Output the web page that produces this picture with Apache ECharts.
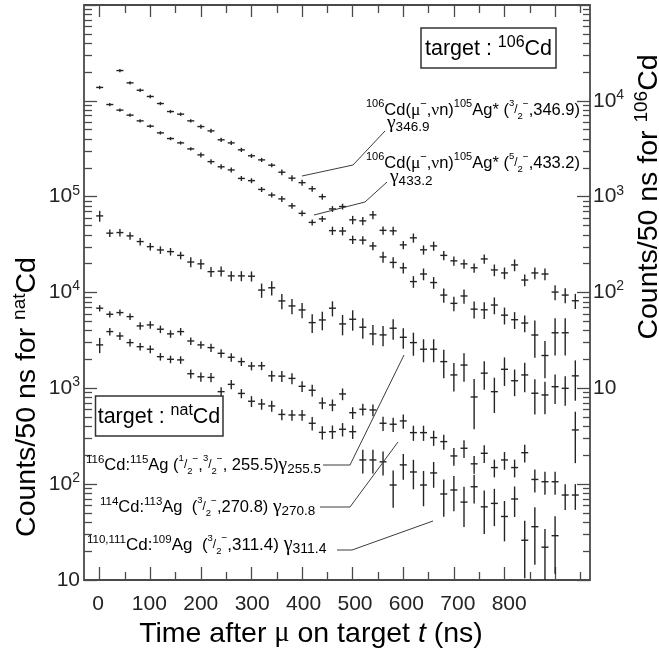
<!DOCTYPE html>
<html>
<head>
<meta charset="utf-8">
<style>
  html, body { margin: 0; padding: 0; background: #ffffff; }
  #chart { width: 659px; height: 651px; }
</style>
<script src="https://cdn.jsdelivr.net/npm/echarts@6/dist/echarts.min.js"></script>
</head>
<body>
<div id="chart"></div>
<script>
// ---- time bins (ns) ----
const TIME = [0, 20, 40, 60, 80, 100, 120, 140, 160, 180, 200, 220, 240, 260, 280, 300,
  320, 340, 360, 380, 400, 420, 440, 460, 480, 500, 520, 540, 560, 580, 600, 620,
  640, 660, 680, 700, 720, 740, 760, 780, 800, 820, 840, 860, 880, 900, 920, 940];
const TIME_346 = [40, 60, 80, 100, 120, 140, 160, 180, 200, 220, 240, 260, 280, 300,
  320, 340, 360, 380, 400, 420, 440, 460, 480, 500, 520, 540, 560, 580, 600, 620,
  640, 660, 680, 700, 720, 740, 760, 780, 800, 820, 840, 860, 880, 900, 920, 940];
const TIME_311 = [0, 20, 40, 60, 80, 100, 120, 140, 160, 180, 200, 220, 240, 260, 280, 300,
  320, 340, 360, 380, 400, 420, 440, 460, 480, 500, 520, 540, 560, 580, 600, 620,
  640, 660, 680, 700, 720, 740, 760, 780, 800, 820, 840, 860, 880, 900];

// ---- 106Cd target (right axis): counts / 50 ns ----
const CD106_346 = [20700, 15400, 12900, 11100, 9370, 7730, 7260, 6180, 5390, 4860, 3920, 3640,
  3080, 2670, 2420, 2130, 1800, 1560, 1400, 1210, 1000, 745, 789, 573, 559, 646, 445, 440,
  314, 372, 279, 306, 244, 214, 199, 181, 224, 172, 160, 194, 135, 160, 156, 101, 94, 82];
const ERR_346 = [0.04, 0.04, 0.04, 0.04, 0.04, 0.04, 0.04, 0.04, 0.05, 0.05, 0.05, 0.05,
  0.05, 0.05, 0.05, 0.05, 0.07, 0.07, 0.07, 0.07, 0.07, 0.07, 0.07, 0.10, 0.10, 0.10, 0.10, 0.10,
  0.10, 0.11, 0.11, 0.11, 0.11, 0.11, 0.11, 0.11, 0.11, 0.14, 0.14, 0.14, 0.14, 0.14, 0.14, 0.18, 0.18, 0.18];

const CD106_433 = [13800, 9150, 8000, 7090, 6180, 5440, 4630, 4040, 3640, 3150, 2730, 2320,
  2050, 1900, 1550, 1470, 1190, 1040, 948, 802, 670, 539, 586, 442, 438, 356, 352, 306,
  235, 206, 181, 130, 156, 127, 94, 77, 92, 67, 66, 74, 58, 52, 48, 36, 22, 38, 38, 13.5];
const ERR_433 = [0.04, 0.04, 0.04, 0.04, 0.04, 0.04, 0.04, 0.04, 0.04, 0.04, 0.06, 0.06,
  0.06, 0.06, 0.06, 0.06, 0.06, 0.06, 0.07, 0.07, 0.07, 0.07, 0.07, 0.10, 0.10, 0.10, 0.10, 0.10,
  0.13, 0.13, 0.13, 0.14, 0.14, 0.14, 0.17, 0.17, 0.17, 0.20, 0.20, 0.20, 0.20, 0.20, 0.20,
  0.42, 0.42, 0.42, 0.42, 0.45];

// ---- natCd target (left axis): counts / 50 ns ----
const NAT_255 = [63000, 41600, 42200, 39000, 34000, 30100, 27800, 26700, 24400, 20800, 19900, 16500,
  16700, 14900, 14900, 14800, 10600, 11200, 8170, 7240, 6580, 4850, 5170, 6860, 4700, 5260,
  4340, 3700, 3610, 4240, 3410, 3000, 2560, 2560, 1900, 1380, 1750, 813, 1440, 923, 1580,
  1200, 1380, 889, 853, 1040, 1000, 368];
const ERR_255 = [0.13, 0.09, 0.09, 0.09, 0.09, 0.09, 0.09, 0.09, 0.09, 0.12, 0.12, 0.12,
  0.12, 0.12, 0.12, 0.12, 0.17, 0.17, 0.18, 0.18, 0.18, 0.22, 0.22, 0.18, 0.24, 0.24,
  0.24, 0.24, 0.24, 0.24, 0.24, 0.27, 0.27, 0.27, 0.33, 0.33, 0.33, 0.54, 0.33, 0.40, 0.33,
  0.31, 0.34, 0.40, 0.37, 0.34, 0.34, 0.55];

const NAT_270 = [6860, 5930, 6170, 5600, 4480, 4590, 4140, 3700, 3910, 3120, 2840, 2660,
  2320, 2110, 1900, 1710, 1720, 1350, 1340, 1270, 1050, 955, 704, 671, 874, 557, 605, 595,
  432, 422, 457, 345, 345, 306, 278, 197, 237, 163, 210, 149, 179, 149, 213, 112, 106, 106, 77, 77];
const ERR_270 = [0.075, 0.075, 0.075, 0.075, 0.09, 0.09, 0.09, 0.09, 0.09, 0.09, 0.09, 0.10,
  0.10, 0.10, 0.10, 0.10, 0.10, 0.13, 0.13, 0.13, 0.13, 0.14, 0.14, 0.14, 0.14, 0.14, 0.14, 0.14,
  0.17, 0.17, 0.17, 0.18, 0.18, 0.18, 0.18, 0.21, 0.21, 0.21, 0.21, 0.21, 0.21, 0.21, 0.21,
  0.27, 0.27, 0.27, 0.30, 0.30];

const NAT_311 = [2840, 3910, 3520, 3000, 2720, 2560, 2140, 2010, 1980, 1420, 1320, 1300,
  923, 1100, 885, 733, 687, 655, 534, 527, 527, 432, 347, 353, 374, 353, 179, 179, 171,
  98, 159, 134, 98, 131, 79, 87, 65, 94, 58, 63, 46, 70, 26, 36, 22, 29];
const ERR_311 = [0.18, 0.09, 0.09, 0.09, 0.09, 0.09, 0.09, 0.09, 0.09, 0.11, 0.11, 0.11,
  0.11, 0.11, 0.11, 0.13, 0.13, 0.13, 0.13, 0.13, 0.13, 0.16, 0.16, 0.16, 0.16, 0.16, 0.28, 0.28, 0.28,
  0.42, 0.30, 0.34, 0.40, 0.30, 0.42, 0.40, 0.45, 0.33, 0.48, 0.42, 0.45, 0.35, 0.60, 0.60, 0.55, 0.60];

// ---- axis ticks and labels ----
const X_MAJOR = [0, 100, 200, 300, 400, 500, 600, 700, 800, 900];
const X_MINOR = [50, 150, 250, 350, 450, 550, 650, 750, 850, 950];
const X_LABELS = [0, 100, 200, 300, 400, 500, 600, 700, 800];
const LEFT_LABEL_EXP = [1, 2, 3, 4, 5];
const RIGHT_LABEL_EXP = [1, 2, 3, 4];

const INK = '#242424';
const FRAME = '#4a4a4a';
const GREY = '#6a6a6a';
const SANS = '"Liberation Sans", Arial, sans-serif';
const SERIF = '"Liberation Serif", "DejaVu Serif", serif';
const HALF_W = 3.5;

function minorLog(e0, e1) {
  const out = [];
  for (let e = e0; e < e1; e++) {
    for (let m = 2; m <= 9; m++) out.push(e + Math.log10(m));
  }
  return out;
}

function decadeFormatter(allowed) {
  return function (val) {
    const e = Math.round(Math.log10(val));
    if (allowed.indexOf(e) < 0) return '';
    return e === 1 ? '{b|10}' : '{b|10}{s|' + e + '}';
  };
}

const AXIS_RICH = {
  b: { fontSize: 21, fontFamily: SANS, color: INK, lineHeight: 26, verticalAlign: 'middle' },
  s: { fontSize: 14, fontFamily: SANS, color: INK, lineHeight: 14, verticalAlign: 'top' }
};

const tickStyle = { color: FRAME, width: 1.3 };

function points(t, v, e) {
  return t.map((x, i) => [x, v[i], e[i]]);
}

// error-bar cross: horizontal bin mark plus vertical ±σ bar
function crossItem(params, api) {
  const t = api.value(0), v = api.value(1), r = api.value(2);
  const p = api.coord([t, v]);
  const top = api.coord([t, v * (1 + r)])[1];
  const lowV = v * (1 - r);
  const cs = params.coordSys;
  const bot = lowV > 0 ? api.coord([t, lowV])[1] : cs.y + cs.height + 5;
  const y1 = Math.min(top, p[1] - 1.6);
  const y2 = Math.max(bot, p[1] + 1.6);
  const st = { stroke: INK, lineWidth: 1.4 };
  return {
    type: 'group',
    children: [
      { type: 'line', shape: { x1: p[0] - HALF_W, y1: p[1], x2: p[0] + HALF_W, y2: p[1] }, style: st },
      { type: 'line', shape: { x1: p[0], y1: y1, x2: p[0], y2: y2 }, style: st }
    ]
  };
}

function crossSeries(name, yIdx, data) {
  return {
    type: 'custom', name: name, xAxisIndex: 0, yAxisIndex: yIdx,
    renderItem: crossItem, data: data, clip: true, silent: true,
    encode: { x: 0, y: 1 }
  };
}

// rich styles for annotation text
function annRich(base, sup, sub) {
  return {
    b: { fontSize: base, fontFamily: SANS, color: INK, lineHeight: base + 6, verticalAlign: 'middle' },
    s: { fontSize: sup, fontFamily: SANS, color: INK, lineHeight: sup, verticalAlign: 'top' },
    g: { fontSize: base + 1, fontFamily: SERIF, color: INK, lineHeight: base + 6, verticalAlign: 'middle' },
    gg: { fontSize: base + 3, fontFamily: SERIF, color: INK, lineHeight: base + 6, verticalAlign: 'middle' },
    sub: { fontSize: sub, fontFamily: SANS, color: INK, lineHeight: sub, verticalAlign: 'bottom' },
    fn: { fontSize: 9.5, fontFamily: SANS, color: GREY, lineHeight: 10, verticalAlign: 'top' },
    fsl: { fontSize: 12, fontFamily: SANS, color: GREY, lineHeight: base + 6, verticalAlign: 'middle' },
    fd: { fontSize: 9.5, fontFamily: SANS, color: GREY, lineHeight: 10, verticalAlign: 'bottom' },
    fm: { fontSize: 10, fontFamily: SANS, color: GREY, lineHeight: 10, verticalAlign: 'top' }
  };
}
const RICH_106 = annRich(16.5, 11, 13.5);
const RICH_NAT = annRich(16.5, 11.5, 13.5);
const RICH_NAT_WIDE = annRich(17, 11.5, 14);
const FRAC = (n, d) => '{fn|' + n + '}{fsl|/}{fd|' + d + '}{fm|\u2212}';

const TITLE_RICH = {
  t: { fontSize: 28.5, fontFamily: SANS, color: INK, lineHeight: 34, verticalAlign: 'middle' },
  ts: { fontSize: 19, fontFamily: SANS, color: INK, lineHeight: 19, verticalAlign: 'top' },
  m: { fontSize: 28.5, fontFamily: SERIF, color: INK, lineHeight: 34, verticalAlign: 'middle' },
  ti: { fontSize: 28.5, fontFamily: SANS, fontStyle: 'italic', color: INK, lineHeight: 34, verticalAlign: 'middle' }
};
const BOX_RICH = {
  b: { fontSize: 21.5, fontFamily: SANS, color: INK, lineHeight: 28, verticalAlign: 'middle' },
  s: { fontSize: 16, fontFamily: SANS, color: INK, lineHeight: 16, verticalAlign: 'top' }
};

function txt(x, y, text, rich, align, rotation) {
  return {
    type: 'text', x: x, y: y, rotation: rotation || 0, z: 10, silent: true,
    style: { text: text, rich: rich, align: align, verticalAlign: 'middle' }
  };
}
function leader(pts) {
  return { type: 'polyline', z: 10, silent: true, shape: { points: pts },
    style: { stroke: '#3c3c3c', lineWidth: 1, fill: null } };
}
function box(x, y, w, h) {
  return { type: 'rect', z: 10, silent: true, shape: { x: x, y: y, width: w, height: h },
    style: { fill: 'transparent', stroke: '#333', lineWidth: 1.5 } };
}

const hiddenLine = { show: false, onZero: false };
const X_MIN = -31, X_MAX = 969;

const option = {
  animation: false,
  backgroundColor: '#ffffff',
  grid: { left: 84, right: 69, top: 5, bottom: 71, show: true, borderColor: FRAME, borderWidth: 1.8, backgroundColor: 'transparent' },
  xAxis: [
    { type: 'value', min: X_MIN, max: X_MAX, position: 'bottom', axisLine: hiddenLine, splitLine: { show: false },
      axisTick: { inside: true, length: 13, customValues: X_MAJOR, lineStyle: tickStyle }, axisLabel: { show: false } },
    { type: 'value', min: X_MIN, max: X_MAX, position: 'top', axisLine: hiddenLine, splitLine: { show: false },
      axisTick: { inside: true, length: 12, customValues: X_MAJOR, lineStyle: tickStyle }, axisLabel: { show: false } },
    { type: 'value', min: X_MIN, max: X_MAX, position: 'bottom', axisLine: hiddenLine, splitLine: { show: false },
      axisTick: { inside: true, length: 8, customValues: X_MINOR, lineStyle: tickStyle }, axisLabel: { show: false } },
    { type: 'value', min: X_MIN, max: X_MAX, position: 'top', axisLine: hiddenLine, splitLine: { show: false },
      axisTick: { inside: true, length: 8, customValues: X_MINOR, lineStyle: tickStyle }, axisLabel: { show: false } },
    // printed time labels
    { type: 'value', min: -27.2, max: 957.2, position: 'bottom', axisLine: hiddenLine, splitLine: { show: false },
      axisTick: { show: false },
      axisLabel: { customValues: X_LABELS, margin: 14, fontSize: 21, fontFamily: SANS, color: INK } }
  ],
  yAxis: [
    { type: 'log', logBase: 10, min: 10, max: 1e7, interval: 1, splitNumber: 6, position: 'left',
      axisLine: hiddenLine, splitLine: { show: false }, minorTick: { show: false },
      axisTick: { inside: true, length: 13, lineStyle: tickStyle },
      axisLabel: { margin: 4, formatter: decadeFormatter(LEFT_LABEL_EXP), rich: AXIS_RICH } },
    { type: 'log', logBase: 10, min: 0.1, max: 1e5, interval: 1, splitNumber: 6, position: 'right',
      axisLine: hiddenLine, splitLine: { show: false }, minorTick: { show: false },
      axisTick: { inside: true, length: 13, lineStyle: tickStyle },
      axisLabel: { margin: 3, formatter: decadeFormatter(RIGHT_LABEL_EXP), rich: AXIS_RICH } },
    { type: 'value', min: 1, max: 7, position: 'left', axisLine: hiddenLine, splitLine: { show: false },
      axisTick: { inside: true, length: 8, customValues: minorLog(1, 7), lineStyle: tickStyle }, axisLabel: { show: false } },
    { type: 'value', min: -1, max: 5, position: 'right', axisLine: hiddenLine, splitLine: { show: false },
      axisTick: { inside: true, length: 7, customValues: minorLog(-1, 5), lineStyle: tickStyle }, axisLabel: { show: false } }
  ],
  series: [
    crossSeries('106Cd 346.9', 1, points(TIME_346, CD106_346, ERR_346)),
    crossSeries('106Cd 433.2', 1, points(TIME, CD106_433, ERR_433)),
    crossSeries('natCd 255.5', 0, points(TIME, NAT_255, ERR_255)),
    crossSeries('natCd 270.8', 0, points(TIME, NAT_270, ERR_270)),
    crossSeries('natCd 311.4', 0, points(TIME_311, NAT_311, ERR_311))
  ],
  graphic: [
    // axis titles
    txt(311, 634, '{t|Time after }{m|\u03bc}{t| on target }{ti|t}{t| (ns)}', TITLE_RICH, 'center'),
    txt(27, 397, '{t|Counts/50 ns for }{ts|nat}{t|Cd}', TITLE_RICH, 'center', Math.PI / 2),
    txt(649, 197, '{t|Counts/50 ns for }{ts|106}{t|Cd}', TITLE_RICH, 'center', Math.PI / 2),
    // target boxes
    box(421, 28, 135, 40),
    txt(488.5, 49, '{b|target : }{s|106}{b|Cd}', BOX_RICH, 'center'),
    box(95.5, 396, 127.5, 40),
    txt(159, 417, '{b|target : }{s|nat}{b|Cd}', BOX_RICH, 'center'),
    // 106Cd transitions
    txt(580, 110, '{s|106}{b|Cd(}{g|\u03bc}{s|\u2212}{b|,}{g|\u03bd}{b|n)}{s|105}{b|Ag* (}' + FRAC(3, 2) + '{b|,346.9)}', RICH_106, 'right'),
    txt(387, 123, '{gg|\u03b3}{sub|346.9}', RICH_106, 'left'),
    txt(580, 163, '{s|106}{b|Cd(}{g|\u03bc}{s|\u2212}{b|,}{g|\u03bd}{b|n)}{s|105}{b|Ag* (}' + FRAC(5, 2) + '{b|,433.2)}', RICH_106, 'right'),
    txt(390, 177, '{gg|\u03b3}{sub|433.2}', RICH_106, 'left'),
    leader([[302, 176], [353, 165], [385, 131]]),
    leader([[314, 215], [365, 202], [387, 182]]),
    // natCd transitions
    txt(86, 465, '{s|116}{b|Cd:}{s|115}{b|Ag (}' + FRAC(1, 2) + '{b|,}' + FRAC(3, 2) + '{b|, 255.5)}{gg|\u03b3}{sub|255.5}', RICH_NAT, 'left'),
    txt(100, 507, '{s|114}{b|Cd:}{s|113}{b|Ag  (}' + FRAC(3, 2) + '{b|,270.8) }{gg|\u03b3}{sub|270.8}', RICH_NAT, 'left'),
    txt(87, 545, '{s|110,111}{b|Cd:}{s|109}{b|Ag  (}' + FRAC(3, 2) + '{b|,311.4) }{gg|\u03b3}{sub|311.4}', RICH_NAT_WIDE, 'left'),
    leader([[323, 465], [350, 465], [404, 355]]),
    leader([[320, 507], [350, 507], [398, 442]]),
    leader([[337, 550], [352, 550], [433, 521]])
  ]
};

const chart = echarts.init(document.getElementById('chart'), null, { renderer: 'canvas' });
chart.setOption(option);
</script>
</body>
</html>
